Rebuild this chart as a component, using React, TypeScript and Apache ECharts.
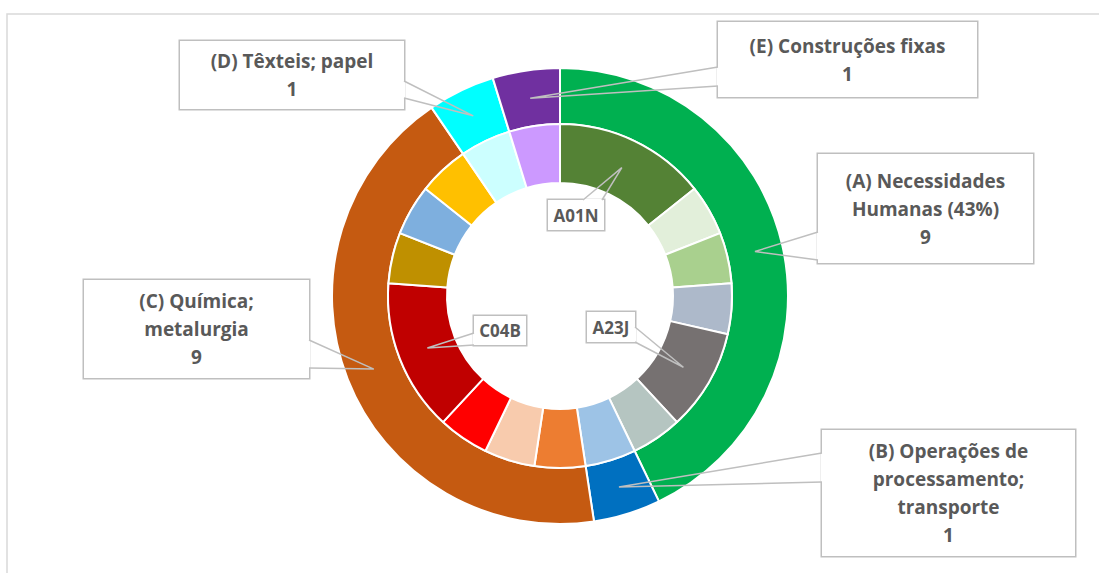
import React, { useEffect, useRef } from "react";
import * as echarts from "echarts";

// Outer ring: IPC sections
const groupNames = [
  "(A) Necessidades\nHumanas (43%)",
  "(B) Operações de\nprocessamento;\ntransporte",
  "(C) Química;\nmetalurgia",
  "(D) Têxteis; papel",
  "(E) Construções fixas",
];
const groupValues = [9, 1, 9, 1, 1];
const groupColors = ["#00B050", "#0070C0", "#C55A11", "#00FFFF", "#7030A0"];

// Inner ring: subclasses (only three carry a visible label)
const subNames = [
  "A01N", "A-2", "A-3", "A-4", "A23J", "A-6",
  "B-1",
  "C-1", "C-2", "C-3", "C04B", "C-5", "C-6", "C-7",
  "D-1",
  "E-1",
];
const subValues = [3, 1, 1, 1, 2, 1, 1, 1, 1, 1, 3, 1, 1, 1, 1, 1];
const subColors = [
  "#548235", "#E2EFDA", "#A9D08E", "#ADB9CA", "#767171", "#B5C5C1",
  "#9DC3E6",
  "#ED7D31", "#F8CBAD", "#FF0000", "#C00000", "#BF9000", "#7EAFDE", "#FFC000",
  "#CCFFFF",
  "#CC99FF",
];
const labelledSubs = ["A01N", "A23J", "C04B"];

// Layout (pixels)
const CX = 560;
const CY = 296;
const OUTER_R = [172, 228];
const INNER_R = [113, 172];

type Box = { left: number; top: number; w: number; h: number; side: "left" | "right" | "top"; base: [number, number]; lines: number };
const outerBoxes: Box[] = [
  { left: 818, top: 154, w: 215, h: 109, side: "left", base: [232, 260], lines: 3 },
  { left: 822, top: 430, w: 253, h: 126, side: "left", base: [453, 482], lines: 4 },
  { left: 84, top: 280, w: 225, h: 98, side: "right", base: [340, 368], lines: 3 },
  { left: 180, top: 41, w: 224, h: 68, side: "right", base: [81, 98], lines: 2 },
  { left: 718, top: 22, w: 259, h: 75, side: "left", base: [67, 86], lines: 2 },
];
const innerBoxes: Record<string, Box> = {
  A01N: { left: 548, top: 200, w: 56, h: 30, side: "top", base: [583, 602], lines: 1 },
  A23J: { left: 587, top: 312, w: 48, h: 30, side: "right", base: [327, 342], lines: 1 },
  C04B: { left: 474, top: 316, w: 52, h: 29, side: "left", base: [333, 345], lines: 1 },
};

const BIG_LH = 28;
const SMALL_LH = 20;
const EDGE = "#BFBFBF";

function tipPoint(values: number[], idx: number, radii: number[]) {
  const total = values.reduce((a, b) => a + b, 0);
  let cum = 0;
  for (let i = 0; i < idx; i++) cum += values[i];
  const a = ((cum + values[idx] / 2) / total) * Math.PI * 2;
  const r = (radii[0] + radii[1]) / 2;
  return [CX + r * Math.sin(a), CY - r * Math.cos(a)];
}

function basePoints(box: Box) {
  if (box.side === "left") return [[box.left, box.base[0]], [box.left, box.base[1]]];
  if (box.side === "right") return [[box.left + box.w, box.base[0]], [box.left + box.w, box.base[1]]];
  return [[box.base[0], box.top], [box.base[1], box.top]];
}

function calloutGraphics(box: Box, tip: number[]) {
  const [p0, p1] = basePoints(box);
  return [
    {
      type: "line",
      z: 100,
      silent: true,
      shape: { x1: p0[0], y1: p0[1], x2: p1[0], y2: p1[1] },
      style: { stroke: "#FFFFFF", lineWidth: 3 },
    },
    {
      type: "polyline",
      z: 101,
      silent: true,
      shape: { points: [p0, tip, p1] },
      style: { stroke: EDGE, lineWidth: 1.5, fill: null, lineJoin: "miter" },
    },
  ];
}

export default function App() {
  const ref = useRef<HTMLDivElement>(null);
  useEffect(() => {
    if (!ref.current) return;
    const chart = echarts.init(ref.current, undefined, { renderer: "svg" });
    const font = "'Open Sans', 'Noto Sans', sans-serif";

    const outerData = groupNames.map((n, i) => {
      const b = outerBoxes[i];
      const pv = (b.h - b.lines * BIG_LH) / 2;
      return {
        name: n,
        value: groupValues[i],
        itemStyle: { color: groupColors[i] },
        label: { width: b.w, padding: [pv, 0, pv, 0] },
      };
    });

    const innerData = subNames.map((n, i) => {
      const b = innerBoxes[n];
      const show = labelledSubs.includes(n);
      const pv = b ? (b.h - SMALL_LH) / 2 : 0;
      return {
        name: n,
        value: subValues[i],
        itemStyle: { color: subColors[i] },
        label: show ? { show: true, width: b.w, padding: [pv, 0, pv, 0] } : { show: false },
      };
    });

    const callouts: any[] = [];
    outerBoxes.forEach((b, i) => {
      callouts.push(...calloutGraphics(b, tipPoint(groupValues, i, OUTER_R)));
    });
    subNames.forEach((n, i) => {
      const b = innerBoxes[n];
      if (b) callouts.push(...calloutGraphics(b, tipPoint(subValues, i, INNER_R)));
    });

    const boxStyle = {
      backgroundColor: "#FFFFFF",
      borderColor: EDGE,
      borderWidth: 1.5,
      color: "#595959",
      fontWeight: "bold" as const,
      fontFamily: font,
      align: "center" as const,
    };

    chart.setOption({
      animation: false,
      backgroundColor: "#FFFFFF",
      graphic: [
        {
          type: "rect",
          z: -10,
          shape: { x: 7, y: 14, width: 1200, height: 700 },
          style: { fill: "none", stroke: "#D9D9D9", lineWidth: 1.5 },
          silent: true,
        },
        ...callouts,
      ],
      series: [
        {
          type: "pie",
          center: [CX, CY],
          radius: OUTER_R,
          startAngle: 90,
          clockwise: true,
          avoidLabelOverlap: false,
          itemStyle: { borderColor: "#FFFFFF", borderWidth: 2 },
          label: {
            show: true,
            position: "outside",
            formatter: "{b}\n{c}",
            fontSize: 19,
            lineHeight: BIG_LH,
            ...boxStyle,
          },
          labelLine: { show: false },
          labelLayout: (p: any) => {
            const b = outerBoxes[p.dataIndex];
            return { x: b.left + b.w / 2, y: b.top, align: "center", verticalAlign: "top" };
          },
          data: outerData,
        },
        {
          type: "pie",
          center: [CX, CY],
          radius: INNER_R,
          startAngle: 90,
          clockwise: true,
          avoidLabelOverlap: false,
          itemStyle: { borderColor: "#FFFFFF", borderWidth: 2 },
          label: {
            position: "outside",
            formatter: "{b}",
            fontSize: 17,
            lineHeight: SMALL_LH,
            ...boxStyle,
          },
          labelLine: { show: false },
          labelLayout: (p: any) => {
            const b = innerBoxes[subNames[p.dataIndex]];
            if (!b) return {};
            return { x: b.left + b.w / 2, y: b.top, align: "center", verticalAlign: "top" };
          },
          data: innerData,
        },
      ],
    });
    return () => chart.dispose();
  }, []);
  return (
    <div
      ref={ref}
      style={{ position: "absolute", left: 0, top: 0, width: 1099, height: 573 }}
    />
  );
}
